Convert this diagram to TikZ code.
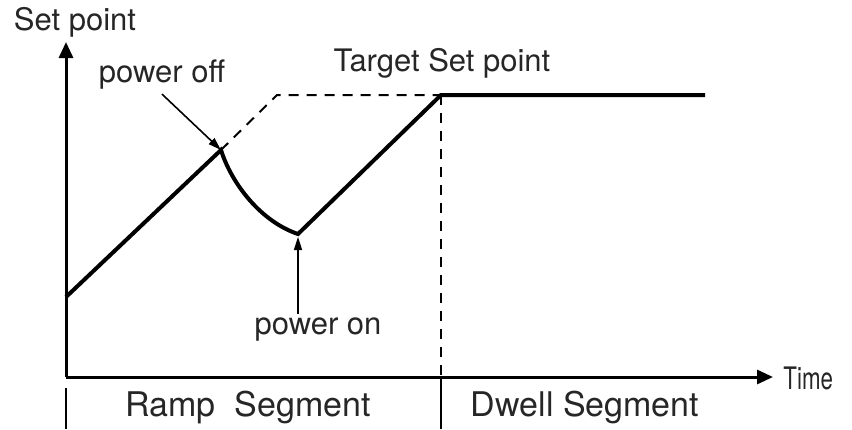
\documentclass[tikz,border=0pt]{standalone}
\usepackage{fontspec}
\setmainfont{TeX Gyre Heros}
\usetikzlibrary{arrows.meta,calc,positioning}

\begin{document}
\begin{tikzpicture}[
    x=0.5pt,
    y=-0.5pt,
    every node/.style={inner sep=2pt, text=black!85, font=\fontsize{15.5}{18}\selectfont},
    segname/.style={font=\fontsize{17}{20}\selectfont},
    axis/.style={line width=1.5pt, -{Triangle[length=8pt,width=7pt]}},
    profile/.style={line width=2pt, line join=miter},
    planned/.style={line width=1pt, dash pattern=on 5pt off 4pt},
    pointer/.style={line width=0.8pt, -{Triangle[length=6.5pt,width=4pt]}}
]
\useasboundingbox (0,0) rectangle (852,429);


% Axes
\coordinate (o) at (66,377);
\coordinate (ytip) at (66,42);
\coordinate (xtip) at (773,377);
\draw[axis] (o) -- (ytip);
\draw[axis] (o) -- (xtip);
\node (ylab) at (75,22) {Set point};
\node[anchor=west] (xlab) at (779,378) {\scalebox{0.72}[1]{Time}};


% Profile points
\coordinate (start) at (66,297);
\coordinate (off) at (221,150);
\coordinate (on) at (298,234);
\coordinate (knee) at (277,95);
\coordinate (target) at (441,95);
\coordinate (end) at (705,95);


% Ramp that was planned
\draw[planned] (off) -- (knee) -- (target);


% Actual set point
\draw[profile] (start) -- (off)
    .. controls (232,185) and (262,222) .. (on)
    -- (target) -- (end);


% Segment borders
\coordinate (tb) at (441,429);
\coordinate (t0) at (66,388);
\coordinate (b0) at (66,429);
\draw[planned, line width=0.8pt] (target) -- (target |- o);
\draw[line width=0.8pt] (target |- o) -- (tb);
\draw[line width=0.8pt] (t0) -- (b0);


% Labels
\node (tsp) at (442,63) {Target Set point};
\node (poff) at (162,75) {power off};
\node (pon) at (318,330) {power on};
\node[segname] (ramp) at (248,408) {Ramp\ \ Segment};
\node[segname] (dwell) at (585,408) {Dwell Segment};


% Pointers
\draw[pointer] (poff.south) -- (off);
\draw[pointer] (on |- pon.north) -- ($(on)+(0,3)$);


\end{tikzpicture}
\end{document}
